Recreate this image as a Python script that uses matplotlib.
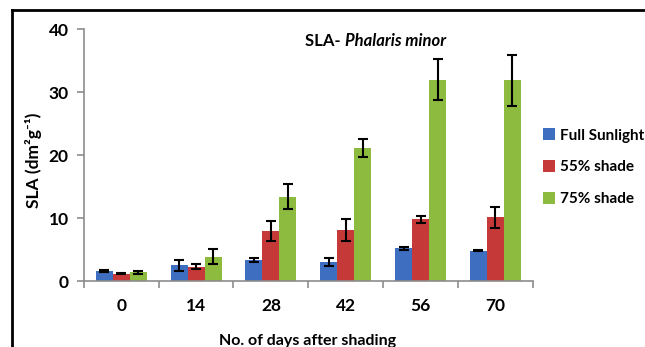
import numpy as np
import matplotlib.pyplot as plt
from matplotlib.lines import Line2D

plt.rcParams['font.family'] = ['Lato', 'DejaVu Sans']

# data
days = ['0', '14', '28', '42', '56', '70']
full_sun = [1.6, 2.5, 3.3, 3.0, 5.2, 4.8]
full_sun_err = [0.2, 0.9, 0.35, 0.6, 0.2, 0.08]
shade55 = [1.2, 2.3, 8.0, 8.1, 9.8, 10.1]
shade55_err = [0.15, 0.35, 1.6, 1.7, 0.6, 1.6]
shade75 = [1.4, 3.9, 13.4, 21.1, 32.0, 31.9]
shade75_err = [0.2, 1.15, 2.0, 1.45, 3.3, 4.05]

colors = ['#3E6EC0', '#C53A38', '#8CBB40']
labels = ['Full Sunlight', '55% shade', '75% shade']

fig = plt.figure(figsize=(6.45, 3.47), dpi=100)
ax = fig.add_axes([0.130, 0.190, 0.696, 0.726])

x = np.arange(len(days))
w = 0.227
series = [(full_sun, full_sun_err), (shade55, shade55_err), (shade75, shade75_err)]
for i, (vals, errs) in enumerate(series):
    ax.bar(x + (i - 1) * w, vals, w, color=colors[i], label=labels[i],
           yerr=errs, capsize=3.5,
           error_kw=dict(ecolor='black', elinewidth=1.5, capthick=1.5))

ax.set_xlim(-0.5, 5.5)
ax.set_ylim(0, 40)
ax.set_yticks([0, 10, 20, 30, 40])
ax.set_xticks(x)
ax.set_xticklabels(days)
ax.set_xticks(np.arange(-0.5, 6, 1), minor=True)
ax.tick_params(axis='x', which='major', length=0, pad=12)
ax.tick_params(axis='x', which='minor', length=5, color='#8c8c8c', width=1.2)
ax.tick_params(axis='y', length=5, color='#8c8c8c', width=1.2, pad=6)
for lab in ax.get_xticklabels() + ax.get_yticklabels():
    lab.set_fontsize(12.5)
    lab.set_fontweight('bold')

for s in ['top', 'right']:
    ax.spines[s].set_visible(False)
for s in ['left', 'bottom']:
    ax.spines[s].set_color('#8c8c8c')
    ax.spines[s].set_linewidth(1.2)

ax.text(0.582, 0.985, 'SLA- ', transform=ax.transAxes, ha='right', va='top',
        fontsize=12, fontweight='bold')
ax.text(0.582, 0.985, 'Phalaris minor', transform=ax.transAxes, ha='left',
        va='top', fontsize=12, fontweight='bold', style='italic')

fig.text(33 / 645, 1 - 160 / 347, 'SLA (dm²g⁻¹)',
         rotation=90, ha='center', va='center', fontsize=12.5, fontweight='bold')
fig.text(308 / 645, 1 - 341 / 347, 'No. of days after shading',
         ha='center', va='center', fontsize=11.5, fontweight='bold')

ax.legend(loc='center left', bbox_to_anchor=(1.0, 0.452), frameon=False,
          handlelength=0.75, handleheight=0.8, handletextpad=0.35,
          borderaxespad=0.3, labelspacing=1.15,
          prop={'size': 11, 'weight': 'bold'})

# border of the chart area
fig.add_artist(Line2D([12 / 645, 1], [1 - 10 / 347] * 2, color='black', lw=2,
                      transform=fig.transFigure))
fig.add_artist(Line2D([12 / 645] * 2, [0, 1 - 10 / 347], color='black', lw=2,
                      transform=fig.transFigure))

fig.savefig('out.png', dpi=100)
